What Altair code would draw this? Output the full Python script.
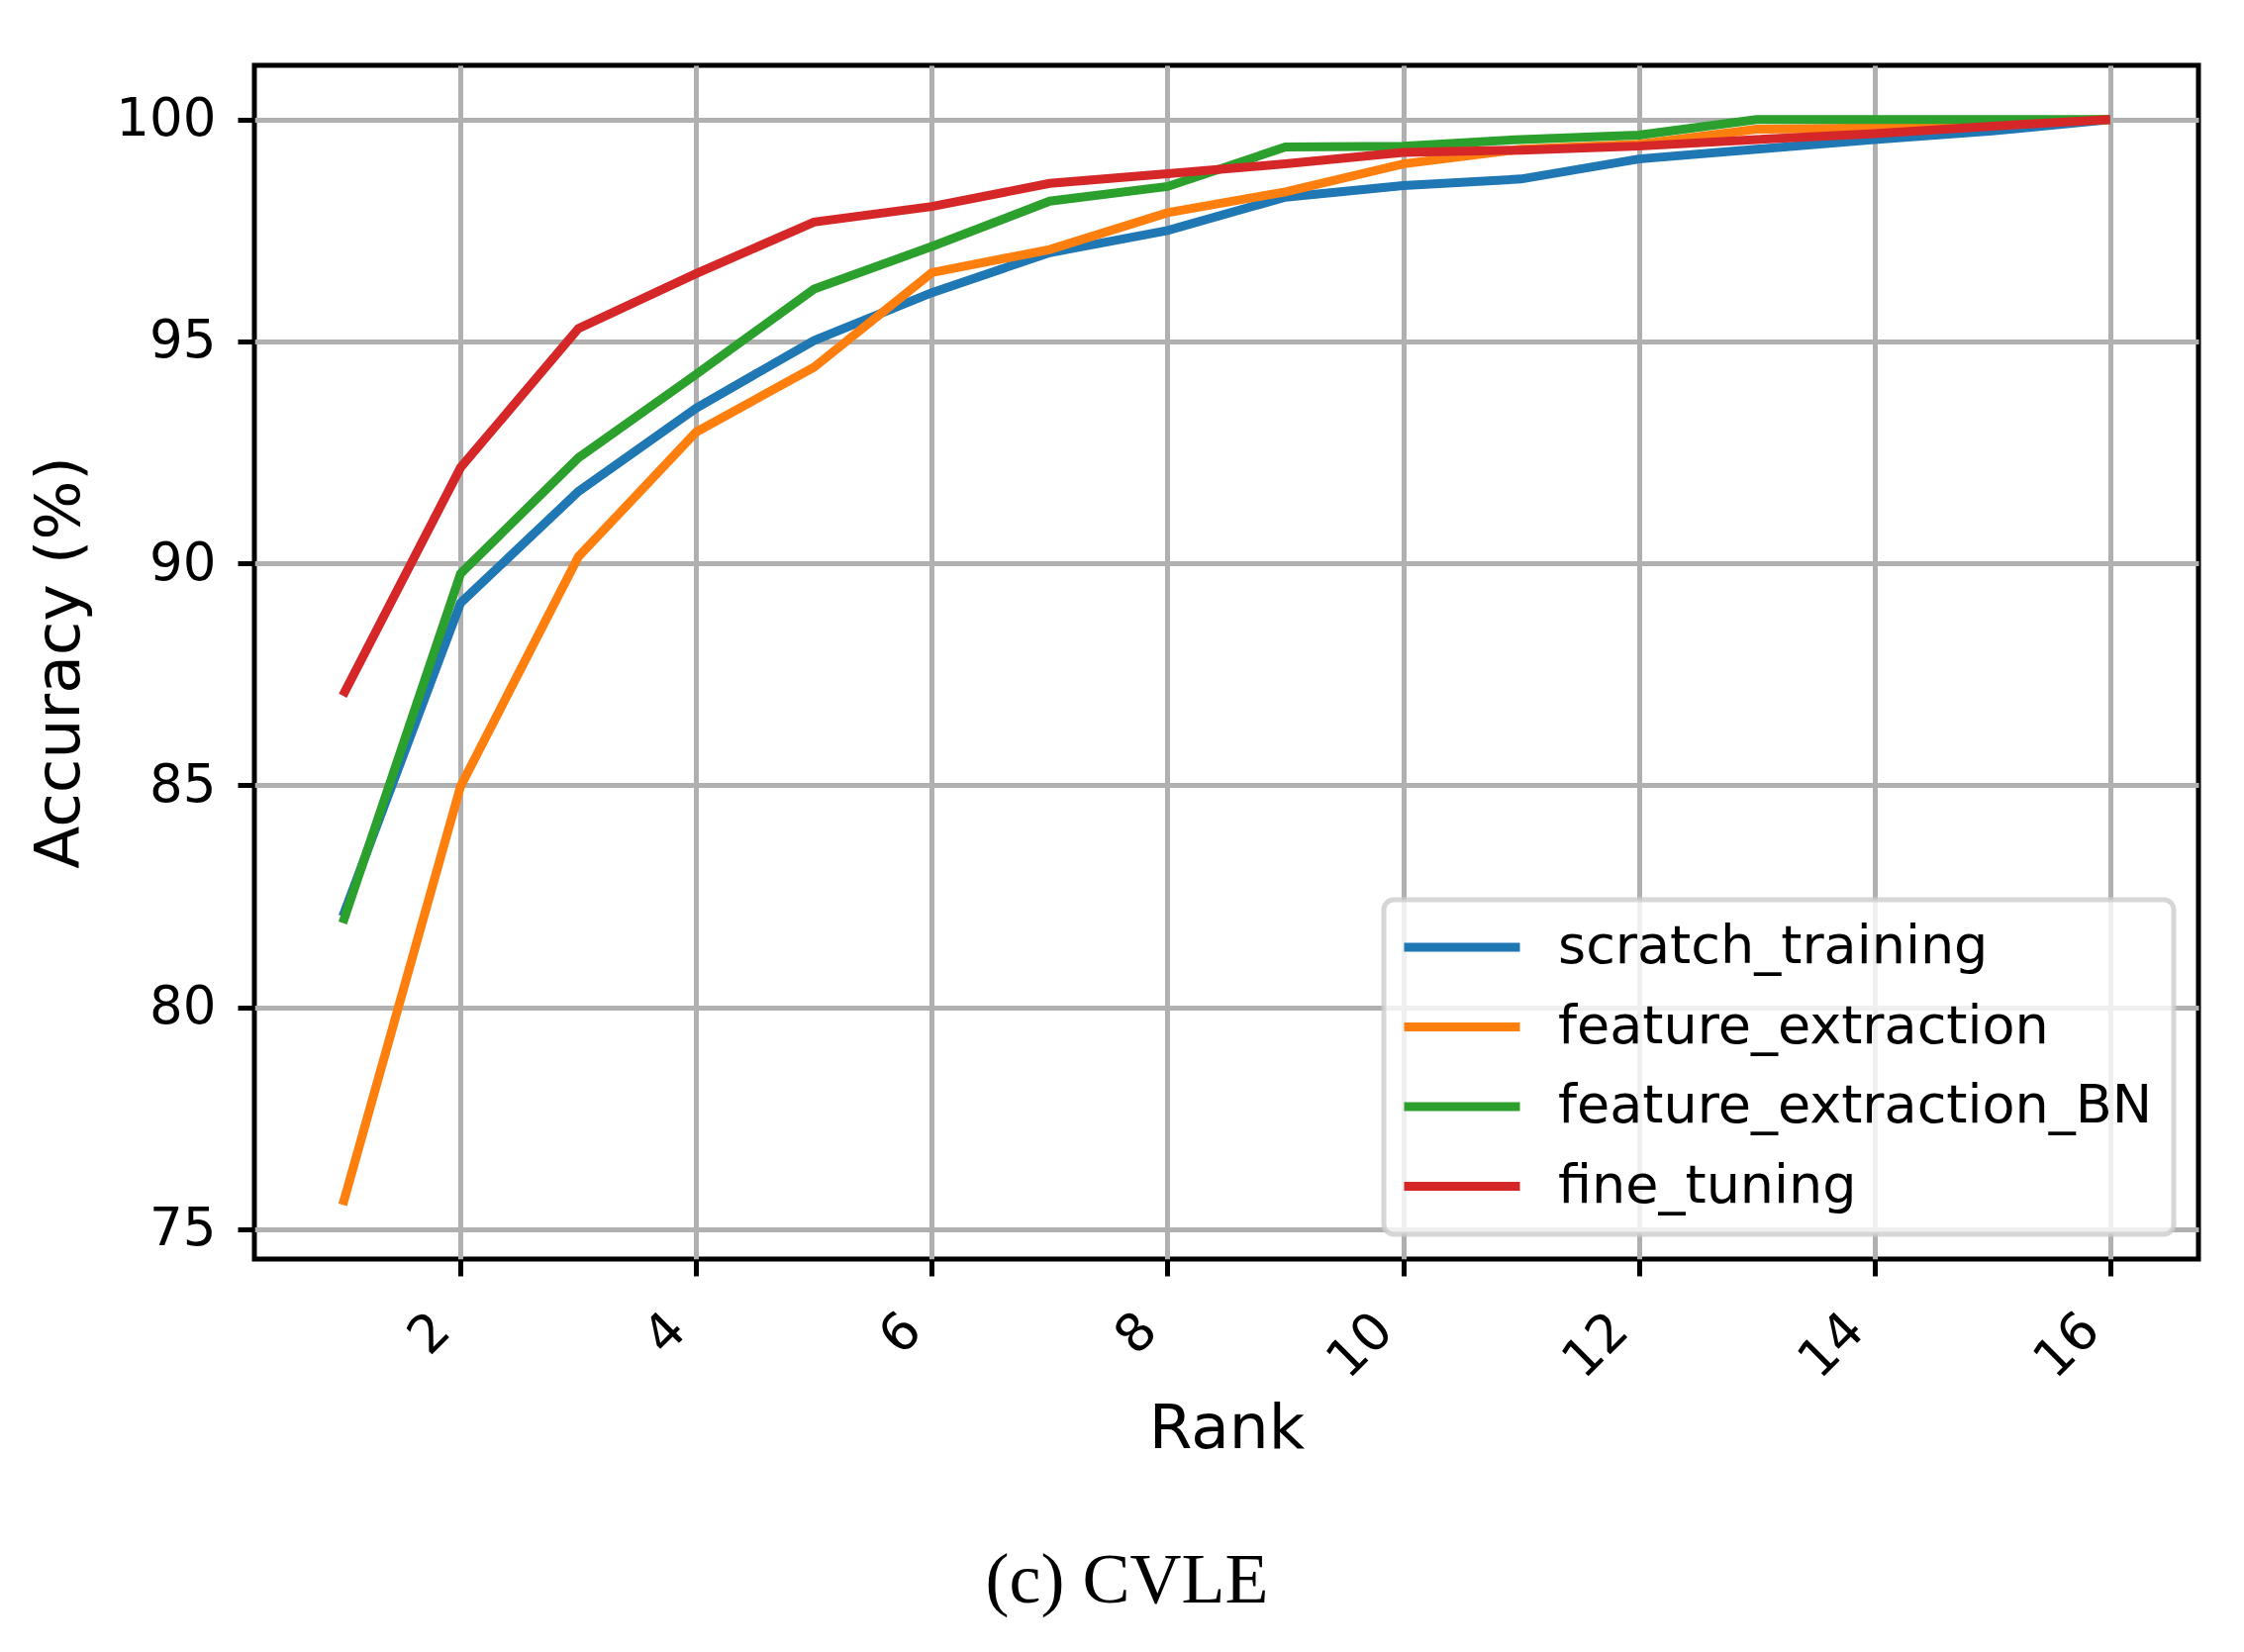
import altair as alt
import pandas as pd

ranks = list(range(1, 17))
series_names = ["scratch_training", "feature_extraction", "feature_extraction_BN", "fine_tuning"]
scratch_training = [82.05, 89.11, 91.62, 93.50, 95.02, 96.10, 97.00, 97.50, 98.25, 98.51, 98.66, 99.11, 99.33, 99.55, 99.74, 100.0]
feature_extraction = [75.55, 84.98, 90.15, 92.96, 94.42, 96.55, 97.07, 97.90, 98.37, 99.00, 99.33, 99.44, 99.78, 99.81, 99.93, 100.0]
feature_extraction_BN = [81.90, 89.77, 92.38, 94.26, 96.18, 97.14, 98.16, 98.49, 99.38, 99.40, 99.55, 99.65, 100.0, 100.0, 100.0, 100.0]
fine_tuning = [87.02, 92.16, 95.29, 96.53, 97.69, 98.04, 98.56, 98.78, 99.00, 99.26, 99.31, 99.40, 99.55, 99.68, 99.85, 100.0]
colors = ["#1f77b4", "#ff7f0e", "#2ca02c", "#d62728"]
x_ticks = [2, 4, 6, 8, 10, 12, 14, 16]
y_ticks = [75, 80, 85, 90, 95, 100]

rows = []
for name, vals in zip(series_names, [scratch_training, feature_extraction, feature_extraction_BN, fine_tuning]):
    for r, v in zip(ranks, vals):
        rows.append({"Rank": r, "Accuracy": v, "series": name})
df = pd.DataFrame(rows)

FONT = "DejaVu Sans"

chart = alt.Chart(df).mark_line(strokeWidth=9, clip=True).encode(
    x=alt.X("Rank:Q",
            scale=alt.Scale(domain=[0.25, 16.75], nice=False, zero=False),
            axis=alt.Axis(title="Rank", values=x_ticks, labelAngle=-45, labelAlign="right",
                          labelBaseline="top", labelPadding=28, labelOffset=-38,
                          titlePadding=10)),
    y=alt.Y("Accuracy:Q",
            scale=alt.Scale(domain=[74.33, 101.22], nice=False, zero=False),
            axis=alt.Axis(title="Accuracy (%)", values=y_ticks, labelPadding=22,
                          titlePadding=24)),
    color=alt.Color("series:N",
                    scale=alt.Scale(domain=series_names, range=colors),
                    legend=alt.Legend(title=None, orient="bottom-right", offset=25,
                                      symbolType="M-3,0H3", symbolSize=1521,
                                      symbolStrokeWidth=9, symbolOffset=31,
                                      labelFontSize=54,
                                      labelFont=FONT, labelColor="black",
                                      labelOffset=70, rowPadding=26.5, padding=21,
                                      fillColor="rgba(255,255,255,0.8)",
                                      strokeColor="rgba(204,204,204,0.8)",
                                      cornerRadius=10, labelLimit=1000)),
).properties(
    width=1964,
    height=1206,
    background="white",
    autosize=alt.AutoSizeParams(type="none"),
    padding={"left": 249, "top": 58, "right": 38, "bottom": 389},
    title=alt.TitleParams(text="(c) CVLE", orient="bottom", anchor="middle", frame="bounds",
                          font="Liberation Serif", fontSize=72, fontWeight="normal",
                          color="black", offset=87, dx=13),
).configure_view(
    stroke="black", strokeWidth=5, fill="white"
).configure_axis(
    labelFont=FONT, labelFontSize=53, labelColor="black",
    titleFont=FONT, titleFontSize=63, titleFontWeight="normal", titleColor="black",
    grid=True, gridColor="#b0b0b0", gridWidth=5, gridOpacity=1,
    domain=False, ticks=True, tickColor="black", tickWidth=5, tickSize=17,
).configure_legend(
    strokeWidth=5
)

chart.save("out.html", embed_options={"renderer": "svg", "actions": False})
